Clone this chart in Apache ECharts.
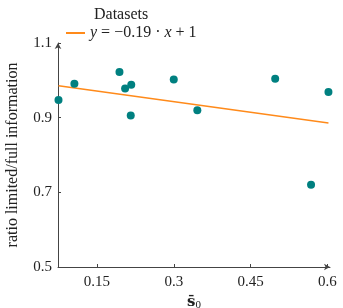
<!DOCTYPE html>
<html><head><meta charset="utf-8">
<script src="https://cdn.jsdelivr.net/npm/echarts@6/dist/echarts.min.js"></script>
<style>html,body{margin:0;padding:0;background:#fff}#c{width:343px;height:308px}</style>
</head><body><div id="c"></div>
<script>
const xValues = [0.075, 0.106, 0.194, 0.205, 0.217, 0.216, 0.300, 0.346, 0.498, 0.602, 0.568];
const yValues = [0.947, 0.991, 1.022, 0.978, 0.988, 0.906, 1.002, 0.920, 1.004, 0.969, 0.720];
const fitSlope = -0.19;
const fitIntercept = 1;
const xTicks = [0.15, 0.3, 0.45, 0.6];
const yTicks = [0.5, 0.7, 0.9, 1.1];
const legendTitle = 'Datasets';
const fitName = 'y = −0.19 · x + 1';

const pts = xValues.map((x, i) => [x, yValues[i]]);
const xmin = Math.min(...xValues), xmax = Math.max(...xValues);
const fitLine = [[xmin, fitSlope * xmin + fitIntercept], [xmax, fitSlope * xmax + fitIntercept]];
const font = '"Liberation Serif", "DejaVu Serif", serif';

const chart = echarts.init(document.getElementById('c'), null, {renderer: 'canvas'});
chart.setOption({
  animation: false,
  textStyle: {fontFamily: font},
  title: {text: legendTitle, left: 89, top: 2, textStyle: {fontFamily: font, fontWeight: 'normal', fontSize: 16, color: '#222'}},
  legend: {
    left: 61, top: 20, itemWidth: 19, itemHeight: 2, itemGap: 4,
    data: [{name: fitName, icon: 'rect'}],
    formatter: () => '{i|y} = −0.19 · {i|x} + 1',
    textStyle: {fontFamily: font, fontSize: 16, color: '#222', rich: {i: {fontStyle: 'italic', fontFamily: font, fontSize: 16, color: '#222'}}}
  },
  grid: {left: 58, right: 13, top: 43, bottom: 41, containLabel: false, outerBoundsMode: 'none'},
  xAxis: {
    type: 'value', min: 0.074, max: 0.605,
    name: '{b|s̄}{s|0}', nameLocation: 'middle', nameGap: 22,
    nameTextStyle: {rich: {b: {fontWeight: 'bold', fontSize: 15, fontFamily: '"DejaVu Serif", serif', color: '#222'}, s: {fontSize: 11, fontFamily: font, color: '#222', verticalAlign: 'bottom', padding: [6,0,0,0]}}},
    axisLine: {lineStyle: {color: '#444', width: 1}, symbol: ['none', 'arrow'], symbolSize: [5, 6]},
    axisTick: {customValues: xTicks, inside: true, length: 3, lineStyle: {color: '#444'}},
    axisLabel: {customValues: xTicks, formatter: v => String(+v.toFixed(2)), fontSize: 15, color: '#222', margin: 8, fontFamily: font},
    splitLine: {show: false}
  },
  yAxis: {
    type: 'value', min: 0.5, max: 1.1,
    name: 'ratio limited/full information', nameLocation: 'middle', nameGap: 37,
    nameTextStyle: {fontSize: 16, color: '#222', fontFamily: font},
    axisLine: {lineStyle: {color: '#444', width: 1}, symbol: ['none', 'arrow'], symbolSize: [5, 6]},
    axisTick: {customValues: yTicks, inside: true, length: 3, lineStyle: {color: '#444'}},
    axisLabel: {customValues: yTicks, formatter: v => String(+v.toFixed(1)), fontSize: 15, color: '#222', margin: 6, fontFamily: font},
    splitLine: {show: false}
  },
  series: [
    {name: 'points', type: 'scatter', data: pts, symbolSize: 8, itemStyle: {color: '#008080', opacity: 1}, clip: false, z: 3},
    {name: fitName, type: 'line', data: fitLine, showSymbol: false, symbol: 'none', lineStyle: {color: '#ff8a1a', width: 1.5}, itemStyle: {color: '#ff8a1a'}, z: 2}
  ]
});
</script></body></html>
